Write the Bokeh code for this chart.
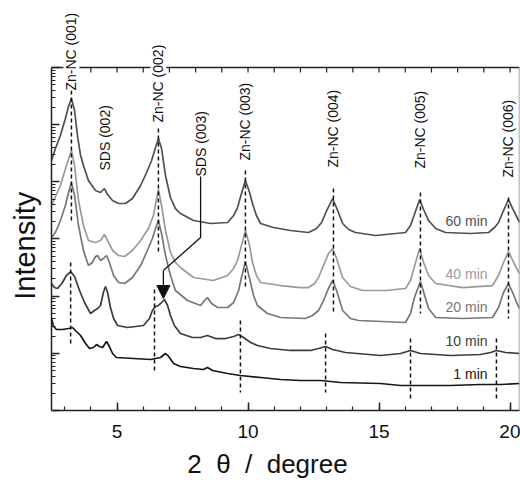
import numpy as np
from bokeh.plotting import figure
from bokeh.models import (Label, Span, FixedTicker, Arrow, NormalHead, Range1d)
from bokeh.embed import file_html
from bokeh.resources import INLINE

FONT = "Liberation Sans"
NB = "\u00a0"

# ---------------- data (2 theta in degree, log10 of intensity) ----------------
tt_60 = [2.50, 2.65, 2.84, 3.03, 3.15, 3.26, 3.38, 3.49, 3.61, 3.72, 3.91, 4.18, 4.37, 4.52, 4.64,
         4.83, 5.06, 5.32, 5.59, 5.90, 6.13, 6.32, 6.47, 6.58, 6.70, 6.85, 7.04, 7.23, 7.42, 7.92,
         8.57, 9.22, 9.45, 9.60, 9.75, 9.90, 10.06, 10.17, 10.32, 10.48, 10.97, 11.62, 12.31, 12.61,
         12.81, 13.00, 13.23, 13.42, 13.61, 13.84, 14.10, 14.87, 15.63, 16.01, 16.20, 16.35, 16.55,
         16.70, 16.89, 17.16, 17.54, 18.49, 19.18, 19.41, 19.56, 19.75, 19.94, 20.10, 20.25, 20.36]
lg_60 = [4.373, 4.583, 4.811, 5.108, 5.318, 5.457, 5.248, 4.811, 4.460, 4.285, 4.023, 3.848, 3.813,
         3.883, 3.778, 3.673, 3.621, 3.621, 3.708, 3.936, 4.163, 4.373, 4.600, 4.758, 4.583, 4.111,
         3.726, 3.533, 3.446, 3.323, 3.271, 3.289, 3.411, 3.551, 3.796, 4.023, 3.813, 3.621, 3.411,
         3.271, 3.201, 3.149, 3.114, 3.184, 3.289, 3.498, 3.708, 3.498, 3.271, 3.166, 3.114, 3.061,
         3.096, 3.114, 3.236, 3.428, 3.691, 3.516, 3.323, 3.184, 3.114, 3.096, 3.114, 3.201, 3.289,
         3.498, 3.691, 3.533, 3.393, 3.289]

tt_40 = [2.50, 2.84, 3.07, 3.26, 3.38, 3.53, 3.72, 3.91, 4.18, 4.37, 4.52, 4.64, 4.83, 5.06, 5.29,
         5.59, 5.90, 6.20, 6.39, 6.58, 6.70, 6.85, 7.04, 7.23, 7.42, 7.92, 8.68, 9.22, 9.45, 9.60,
         9.75, 9.90, 10.06, 10.17, 10.32, 10.48, 11.24, 12.00, 12.31, 12.54, 12.69, 12.88, 13.07,
         13.23, 13.38, 13.61, 13.91, 14.37, 15.25, 16.01, 16.20, 16.35, 16.55, 16.70, 16.89, 17.16,
         18.19, 19.33, 19.56, 19.75, 19.94, 20.10, 20.25, 20.36]
lg_40 = [3.586, 3.936, 4.285, 4.548, 4.285, 3.673, 3.236, 2.974, 2.939, 2.974, 3.079, 2.974, 2.799,
         2.711, 2.694, 2.799, 2.974, 3.184, 3.411, 3.866, 3.586, 3.149, 2.764, 2.589, 2.501, 2.326,
         2.274, 2.361, 2.484, 2.624, 2.886, 3.149, 2.886, 2.589, 2.361, 2.239, 2.186, 2.151, 2.151,
         2.221, 2.326, 2.536, 2.746, 2.834, 2.659, 2.326, 2.169, 2.099, 2.099, 2.134, 2.274, 2.519,
         2.834, 2.589, 2.361, 2.221, 2.151, 2.186, 2.361, 2.589, 2.781, 2.624, 2.484, 2.396]

tt_20 = [2.50, 2.65, 2.84, 3.03, 3.15, 3.26, 3.38, 3.53, 3.72, 3.91, 4.06, 4.18, 4.26, 4.37, 4.48,
         4.60, 4.71, 4.87, 5.06, 5.29, 5.59, 5.90, 6.16, 6.35, 6.47, 6.58, 6.70, 6.85, 7.04, 7.23,
         7.69, 8.19, 8.34, 8.45, 8.61, 8.84, 9.22, 9.45, 9.64, 9.75, 9.90, 10.06, 10.21, 10.36,
         10.74, 11.24, 12.19, 12.46, 12.69, 12.88, 13.07, 13.23, 13.38, 13.61, 13.91, 14.22, 16.01,
         16.20, 16.35, 16.58, 16.74, 16.89, 17.16, 18.19, 19.33, 19.56, 19.75, 19.94, 20.10, 20.25,
         20.36]
lg_20 = [3.026, 3.114, 3.323, 3.586, 3.813, 3.988, 3.761, 3.236, 2.799, 2.536, 2.589, 2.694, 2.711,
         2.624, 2.659, 2.711, 2.589, 2.361, 2.239, 2.221, 2.326, 2.536, 2.799, 3.009, 3.184, 3.323,
         3.096, 2.711, 2.361, 2.099, 1.924, 1.837, 1.924, 1.977, 1.872, 1.802, 1.802, 1.889, 2.099,
         2.326, 2.606, 2.309, 2.012, 1.837, 1.697, 1.627, 1.609, 1.662, 1.749, 1.924, 2.134, 2.274,
         2.099, 1.749, 1.609, 1.574, 1.539, 1.697, 1.977, 2.256, 2.012, 1.784, 1.627, 1.609, 1.627,
         1.802, 2.064, 2.221, 2.064, 1.889, 1.784]

tt_10 = [2.50, 2.61, 2.73, 2.92, 3.07, 3.23, 3.38, 3.57, 3.76, 3.99, 4.14, 4.26, 4.37, 4.48, 4.56,
         4.64, 4.75, 4.87, 5.02, 5.40, 6.01, 6.24, 6.35, 6.47, 6.58, 6.70, 6.81, 6.93, 7.04, 7.19,
         7.42, 7.88, 8.19, 8.45, 8.76, 9.14, 9.45, 9.64, 9.83, 10.10, 10.36, 10.86, 11.62, 12.39,
         12.69, 12.96, 13.23, 13.72, 15.06, 15.82, 16.20, 16.58, 17.73, 18.87, 19.26, 19.48, 19.83,
         20.36]
lg_10 = [2.221, 2.151, 2.134, 2.239, 2.361, 2.431, 2.344, 2.099, 1.889, 1.697, 1.749, 1.784, 1.837,
         2.064, 2.169, 2.064, 1.802, 1.609, 1.487, 1.452, 1.487, 1.609, 1.749, 1.819, 1.837, 1.889,
         1.942, 1.837, 1.662, 1.487, 1.347, 1.277, 1.277, 1.312, 1.259, 1.259, 1.294, 1.329, 1.277,
         1.189, 1.137, 1.085, 1.050, 1.050, 1.085, 1.119, 1.067, 1.015, 0.962, 0.997, 1.050, 0.997,
         0.962, 0.980, 1.015, 1.050, 1.015, 0.997]

tt_1 = [2.50, 2.58, 2.69, 2.92, 3.15, 3.30, 3.45, 3.61, 3.80, 3.95, 4.10, 4.22, 4.33, 4.45, 4.60,
        4.71, 4.83, 4.98, 5.63, 6.28, 6.66, 6.85, 6.97, 7.16, 7.42, 7.92, 8.30, 8.45, 8.65, 9.22,
        9.71, 10.48, 11.24, 12.00, 12.77, 13.53, 15.06, 15.82, 16.58, 17.73, 18.87, 19.64, 20.36]
lg_1 = [1.609, 1.469, 1.417, 1.417, 1.434, 1.452, 1.382, 1.312, 1.172, 1.085, 1.102, 1.154, 1.119,
        1.102, 1.207, 1.119, 0.997, 0.927, 0.910, 0.892, 0.927, 0.997, 0.945, 0.822, 0.770, 0.735,
        0.717, 0.752, 0.700, 0.647, 0.612, 0.577, 0.542, 0.525, 0.525, 0.490, 0.472, 0.437, 0.437,
        0.437, 0.455, 0.455, 0.472]

series_names = ["60 min", "40 min", "20 min", "10 min", "1 min"]
series_tt = [tt_60, tt_40, tt_20, tt_10, tt_1]
series_lg = [lg_60, lg_40, lg_20, lg_10, lg_1]
series_colors = ["#505050", "#9a9a9a", "#777777", "#3c3c3c", "#161616"]
series_label_lg = [3.323, 2.396, 1.819, 1.224, 0.647]

# reflection markers (dashed lines)
late_peaks_tt = [3.26, 6.58, 9.90, 13.26, 16.58, 19.94]
late_top_lg = [5.597, 4.933, 4.198, 3.883, 3.813, 3.726]
late_bot_lg = [3.323, 2.746, 2.151, 1.697, 1.697, 1.609]
early_peaks_tt = [3.23, 6.43, 9.71, 12.96, 16.20, 19.48]
early_top_lg = [2.589, 2.117, 1.574, 1.347, 1.259, 1.259]
early_bot_lg = [1.137, 0.647, 0.315, 0.315, 0.210, 0.210]

# reflection labels
peak_labels = ["Zn-NC (001)", "SDS (002)", "Zn-NC (002)", "SDS (003)", "Zn-NC (003)",
               "Zn-NC (004)", "Zn-NC (005)", "Zn-NC (006)"]
peak_label_tt = [3.26, 4.56, 6.58, 8.19, 9.90, 13.26, 16.58, 19.94]
peak_label_lg = [5.597, 4.198, 5.038, 4.093, 4.373, 4.250, 4.233, 4.075]

# SDS (003) pointer
pointer_tt = [8.19, 8.19, 6.77, 6.77]
pointer_lg = [4.093, 3.026, 2.449, 1.959]

# axis box: x 2.5..20.36, y from 1e0 to 1e6; extra room above the box for the reflection labels
X_MIN, X_MAX = 2.5, 20.36
Y_BOX_BOTTOM, Y_BOX_TOP = 1.0, 1e6
Y_VIEW_TOP = 10 ** 7.172
top_tick_tt = list(range(3, 21))
TOP_TICK_LEN_DEC = 5 / 57.17   # tick length expressed in decades

# ---------------- figure ----------------
p = figure(width=520, height=482, x_range=Range1d(X_MIN, X_MAX),
           y_range=Range1d(Y_BOX_BOTTOM, Y_VIEW_TOP),
           y_axis_type="log", output_backend="svg", toolbar_location=None,
           min_border_left=51, min_border_right=1, min_border_top=0, min_border_bottom=72)
p.outline_line_color = None
p.xgrid.visible = False
p.ygrid.visible = False
p.background_fill_color = "white"
p.border_fill_color = "white"

AX = "#222222"

xa = p.xaxis[0]
xa.ticker = FixedTicker(ticks=[5, 10, 15, 20], minor_ticks=list(range(3, 21)))
xa.major_tick_in = 8
xa.major_tick_out = 0
xa.minor_tick_in = 4
xa.minor_tick_out = 0
xa.axis_line_color = AX
xa.axis_line_width = 1.5
xa.major_tick_line_color = AX
xa.minor_tick_line_color = AX
xa.major_tick_line_width = 1.5
xa.minor_tick_line_width = 1.2
xa.major_label_text_font = FONT
xa.major_label_text_font_size = "19px"
xa.major_label_text_color = "#111111"
xa.major_label_text_line_height = 1.0
xa.major_label_standoff = 14
xa.axis_label = "2" + NB * 2 + "θ" + NB * 2 + "/" + NB * 2 + "degree" + NB * 5
xa.axis_label_text_font = FONT
xa.axis_label_text_font_size = "26px"
xa.axis_label_text_font_style = "normal"
xa.axis_label_text_color = "#111111"
xa.axis_label_text_line_height = 1.0
xa.axis_label_standoff = 8

ya = p.yaxis[0]
ya.ticker = FixedTicker(ticks=[10.0 ** k for k in range(0, 7)],
                        minor_ticks=[m * 10.0 ** k for k in range(0, 6) for m in range(2, 10)])
ya.bounds = (Y_BOX_BOTTOM, Y_BOX_TOP)
ya.major_tick_in = 8
ya.major_tick_out = 0
ya.minor_tick_in = 4
ya.minor_tick_out = 0
ya.axis_line_color = AX
ya.axis_line_width = 1.5
ya.major_tick_line_color = AX
ya.minor_tick_line_color = AX
ya.major_tick_line_width = 1.5
ya.minor_tick_line_width = 1.2
ya.major_label_text_font_size = "2px"
ya.major_label_text_color = None
ya.major_label_standoff = 0
ya.axis_label = "Intensity" + NB * 10
ya.axis_label_text_font = FONT
ya.axis_label_text_font_size = "29px"
ya.axis_label_text_font_style = "normal"
ya.axis_label_text_color = "#111111"
ya.axis_label_standoff = 11

# top border of the axis box with inward ticks, and the right border
p.add_layout(Span(location=Y_BOX_TOP, dimension="width", line_color=AX, line_width=1.5))
p.segment(x0=top_tick_tt, y0=Y_BOX_TOP, x1=top_tick_tt, y1=Y_BOX_TOP / 10 ** TOP_TICK_LEN_DEC,
          line_color=AX, line_width=1.2)
p.segment(x0=[X_MAX], y0=[Y_BOX_BOTTOM], x1=[X_MAX], y1=[Y_BOX_TOP],
          line_color="#888888", line_width=1.5)

# curves
for tt, lg, col in zip(series_tt, series_lg, series_colors):
    p.line(tt, 10.0 ** np.array(lg), line_color=col, line_width=1.7)

# dashed markers
p.segment(x0=late_peaks_tt, y0=10.0 ** np.array(late_top_lg), x1=late_peaks_tt,
          y1=10.0 ** np.array(late_bot_lg), line_color="#111111", line_width=1.5, line_dash="4 3")
p.segment(x0=early_peaks_tt, y0=10.0 ** np.array(early_top_lg), x1=early_peaks_tt,
          y1=10.0 ** np.array(early_bot_lg), line_color="#111111", line_width=1.5, line_dash="4 3")

# pointer to SDS (003)
p.line(pointer_tt[:3], 10.0 ** np.array(pointer_lg[:3]), line_color="#111111", line_width=1.3)
p.add_layout(Arrow(end=NormalHead(size=13, fill_color="#111111", line_color="#111111"),
                   x_start=pointer_tt[2], y_start=10.0 ** pointer_lg[2],
                   x_end=pointer_tt[3], y_end=10.0 ** pointer_lg[3],
                   line_color="#111111", line_width=1.3))

# series labels
for name, col, lg in zip(series_names, series_colors, series_label_lg):
    p.add_layout(Label(x=19.14, y=10.0 ** lg, text=name, text_align="right",
                       text_baseline="middle", text_font=FONT, text_font_size="14px",
                       text_color=col))

# reflection labels
for i, (txt, tt, lg) in enumerate(zip(peak_labels, peak_label_tt, peak_label_lg)):
    kw = {}
    if i in (0, 2):
        kw = dict(background_fill_color="white")
    p.add_layout(Label(x=tt, y=10.0 ** lg, text=txt, angle=np.pi / 2, text_align="left",
                       text_baseline="middle", text_font=FONT, text_font_size="14px",
                       text_color="#111111", **kw))

open("out.html", "w").write(file_html(p, INLINE))
